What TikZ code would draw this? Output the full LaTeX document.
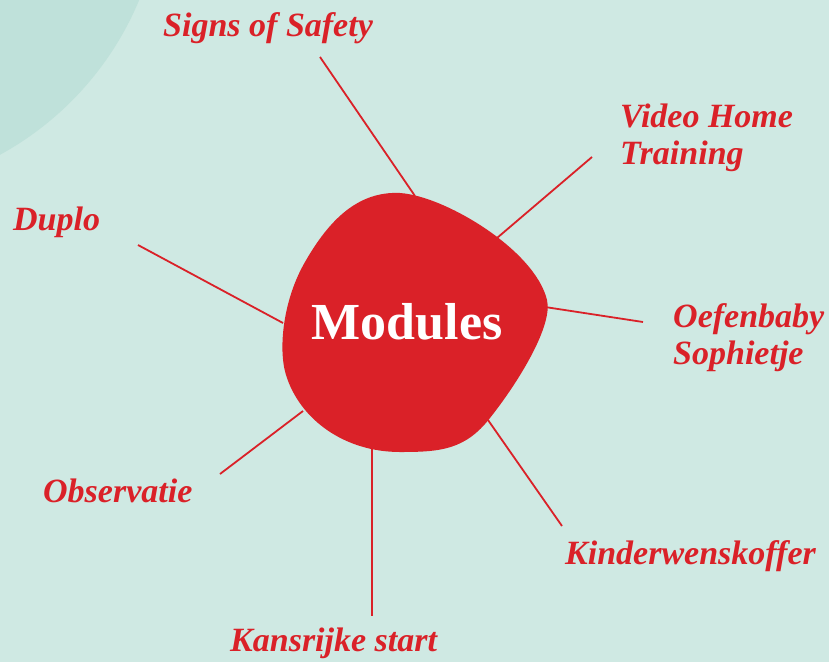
\documentclass[tikz,border=0pt]{standalone}
\usepackage{fontspec}
\setmainfont{Liberation Serif}
\definecolor{bgmint}{HTML}{CFE9E3}
\definecolor{darkmint}{HTML}{BFE1DA}
\definecolor{modred}{HTML}{DA2128}
\tikzset{
  lbl/.style={text=modred, font=\bfseries\itshape\fontsize{34}{37}\selectfont, inner sep=0pt},
  spoke/.style={draw=modred, line width=1.8pt},
}
\begin{document}
\begin{tikzpicture}[x=1pt,y=-1pt]
\useasboundingbox (0,0) rectangle (829,662);
\fill[bgmint] (0,0) rectangle (829,662);
\begin{scope}
\clip (0,0) rectangle (829,662);
\fill[darkmint] (-150,-120) circle (313);
\end{scope}
% spoke ends at blob
\coordinate (b1) at (415,196);
\coordinate (b2) at (497,238);
\coordinate (b3) at (545,307);
\coordinate (b4) at (488,420);
\coordinate (b5) at (372,449);
\coordinate (b6) at (303,411);
\coordinate (b7) at (283,323);
% outer ends
\coordinate (o1) at (320,57);
\coordinate (o2) at (592,157);
\coordinate (o3) at (643,322);
\coordinate (o4) at (562,526);
\coordinate (o5) at (372,616);
\coordinate (o6) at (220,474);
\coordinate (o7) at (138,245);
\foreach \i in {1,...,7} {\draw[spoke] (b\i) -- (o\i);}
% blob
\fill[modred] (400,193) .. controls (445,196) and (535,250) .. (547,300)
  .. controls (553,325) and (520,380) .. (490,418)
  .. controls (465,450) and (440,452) .. (400,452)
  .. controls (345,452) and (300,420) .. (286,375)
  .. controls (278,349) and (283,300) .. (305,262)
  .. controls (329,220) and (358,191) .. (400,193) -- cycle;
\node[text=white, font=\bfseries\fontsize{52}{56}\selectfont, inner sep=0pt] (center) at (407,322) {Modules};
% labels
\node[lbl, anchor=west] (sos) at (163,28) {Signs of Safety};
\node[lbl, anchor=west, align=left] (vht) at (620,138) {Video Home\\Training};
\node[lbl, anchor=west] (duplo) at (13,222) {Duplo};
\node[lbl, anchor=west, align=left] (oef) at (673,338) {Oefenbaby\\Sophietje};
\node[lbl, anchor=west] (obs) at (43,491) {Observatie};
\node[lbl, anchor=west] (kwk) at (565,556) {Kinderwenskoffer};
\node[lbl, anchor=west] (ks) at (230,643) {Kansrijke start};
\end{tikzpicture}
\end{document}
